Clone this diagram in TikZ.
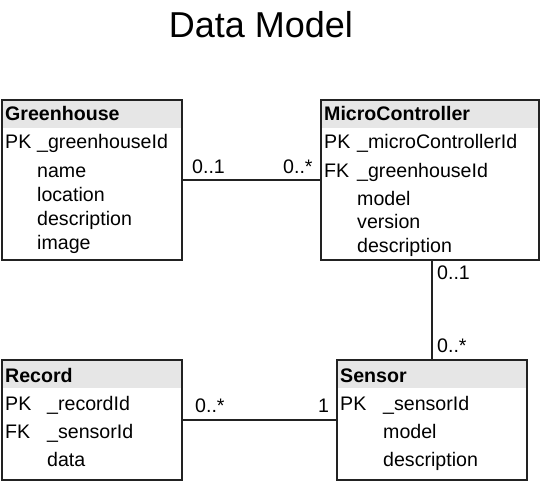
\documentclass[tikz,border=0pt]{standalone}
\usepackage{fontspec}
\setmainfont{Liberation Sans}
\usetikzlibrary{calc}
\definecolor{hdrgray}{HTML}{E6E6E6}
\definecolor{linegray}{HTML}{222222}
\begin{document}
\begin{tikzpicture}[x=1pt,y=-1pt,
  entity/.style={draw=linegray, line width=1.4pt, fill=white, outer sep=0pt, inner sep=0pt,
    path picture={\fill[hdrgray] (path picture bounding box.north west) rectangle ([yshift=-28pt]path picture bounding box.north east);}},
  attr/.style={anchor=base west, inner sep=0pt, font=\fontsize{19.6}{22}\selectfont},
  hdr/.style={anchor=base west, inner sep=0pt, font=\bfseries\fontsize{19.6}{22}\selectfont},
  mult/.style={anchor=base west, inner sep=0pt, font=\fontsize{19.6}{22}\selectfont},
  rel/.style={draw=linegray, line width=1.4pt}]
\useasboundingbox (0,0) rectangle (542,482);
% title
\node[font=\fontsize{36}{40}\selectfont, inner sep=0pt] (title) at (261,25) {Data Model};
% boxes
\node[entity, minimum width=180pt, minimum height=160pt] (gh) at (92,180) {};
\node[entity, minimum width=218pt, minimum height=160pt] (mc) at (430,180) {};
\node[entity, minimum width=180pt, minimum height=120pt] (rec) at (92,420) {};
\node[entity, minimum width=190pt, minimum height=120pt] (sen) at (432,420) {};
% Greenhouse
\node[hdr] (ghT) at (5,120) {Greenhouse};
\node[attr] (ghPK) at (5,148) {PK};
\node[attr] (ghA1) at (37,148) {\_greenhouseId};
\node[attr] (ghA2) at (37,177) {name};
\node[attr] (ghA3) at (37,201) {location};
\node[attr] (ghA4) at (37,225) {description};
\node[attr] (ghA5) at (37,249) {image};
% MicroController
\node[hdr] (mcT) at (324,120) {MicroController};
\node[attr] (mcPK) at (324,148) {PK};
\node[attr] (mcA1) at (357,148) {\_microControllerId};
\node[attr] (mcFK) at (324,177) {FK};
\node[attr] (mcA2) at (357,177) {\_greenhouseId};
\node[attr] (mcA3) at (357,205) {model};
\node[attr] (mcA4) at (357,228) {version};
\node[attr] (mcA5) at (357,252) {description};
% Record
\node[hdr] (recT) at (5,382) {Record};
\node[attr] (recPK) at (5,410) {PK};
\node[attr] (recA1) at (47,410) {\_recordId};
\node[attr] (recFK) at (5,438) {FK};
\node[attr] (recA2) at (47,438) {\_sensorId};
\node[attr] (recA3) at (47,466) {data};
% Sensor
\node[hdr] (senT) at (340,382) {Sensor};
\node[attr] (senPK) at (340,410) {PK};
\node[attr] (senA1) at (383,410) {\_sensorId};
\node[attr] (senA2) at (383,438) {model};
\node[attr] (senA3) at (383,466) {description};
% connectors
\coordinate (y1) at (0,180);
\coordinate (y2) at (0,420);
\coordinate (x1) at (432,0);
\draw[rel] (gh.east |- y1) -- (mc.west |- y1);
\draw[rel] (mc.south -| x1) -- (sen.north -| x1);
\draw[rel] (rec.east |- y2) -- (sen.west |- y2);
% multiplicities
\node[mult] (m1) at (192,173) {0..1};
\node[mult] (m2) at (283,173) {0..*};
\node[mult] (m3) at (437,279) {0..1};
\node[mult] (m4) at (437,352) {0..*};
\node[mult] (m5) at (195,412) {0..*};
\node[mult] (m6) at (318,412) {1};
\end{tikzpicture}
\end{document}
